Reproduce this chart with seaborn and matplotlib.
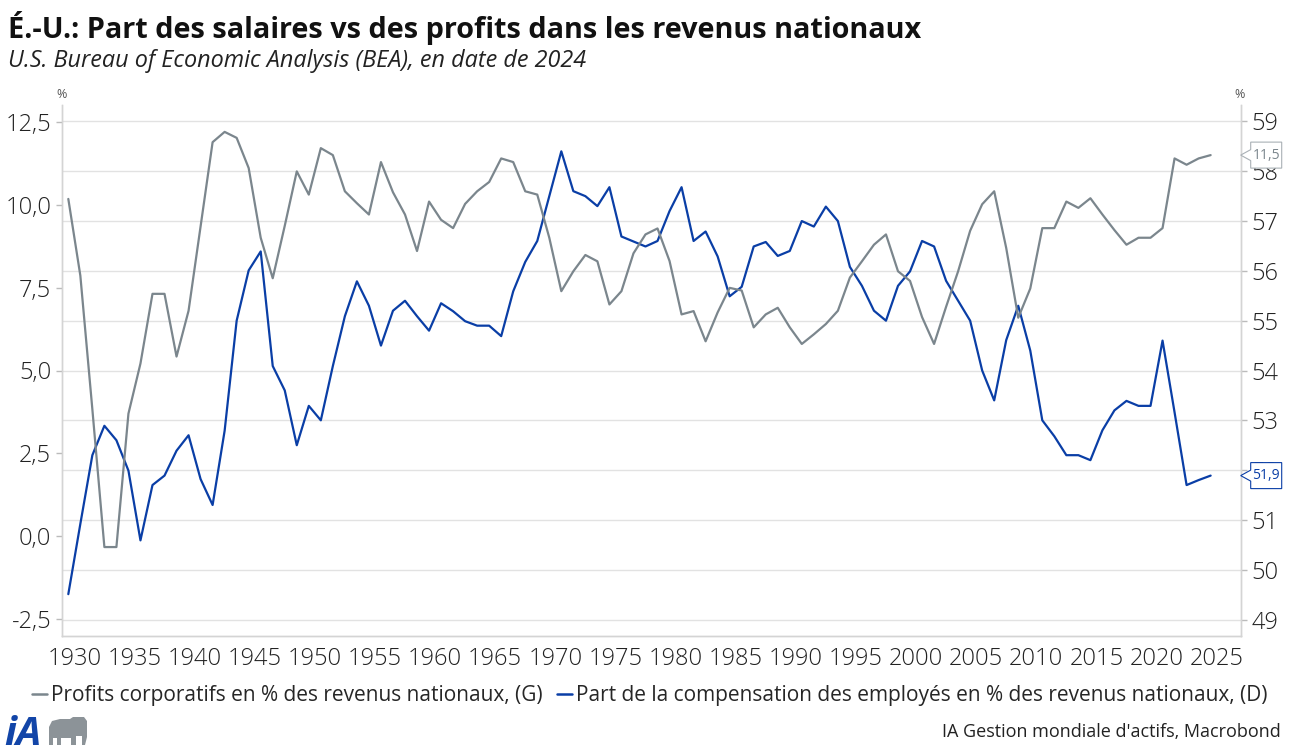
import matplotlib
matplotlib.use("Agg")
import matplotlib.pyplot as plt
import matplotlib.transforms as mtransforms
from matplotlib.patches import Polygon
from matplotlib.lines import Line2D
import numpy as np
import pandas as pd
import seaborn as sns

# ---- data ----
years = list(range(1929, 2025))

profits = [10.17, 7.86, 3.83, -0.32, -0.32, 3.70, 5.21, 7.31, 7.31, 5.42, 6.80,
           9.34, 11.88, 12.19, 12.01, 11.10, 9.00, 7.78, 9.36, 11.00, 10.30,
           11.70, 11.49, 10.40, 10.04, 9.70, 11.28, 10.37, 9.70, 8.60, 10.09,
           9.54, 9.29, 10.02, 10.40, 10.68, 11.39, 11.28, 10.40, 10.30, 9.00,
           7.39, 7.99, 8.48, 8.29, 6.99, 7.39, 8.53, 9.10, 9.28, 8.30,
           6.69, 6.79, 5.88, 6.75, 7.49, 7.41, 6.30, 6.69, 6.89, 6.30,
           5.80, 6.09, 6.40, 6.80, 7.80, 8.29, 8.79, 9.10, 7.99, 7.70,
           6.61, 5.80, 6.92, 7.99, 9.21, 10.01, 10.40, 8.69, 6.59, 7.47,
           9.29, 9.29, 10.09, 9.90, 10.19, 9.70, 9.23, 8.79, 9.00, 9.00,
           9.29, 11.39, 11.20, 11.39, 11.49]

wages = [49.51, 50.92, 52.30, 52.89, 52.60, 51.99, 50.59, 51.70, 51.89, 52.39, 52.70,
         51.82, 51.30, 52.79, 55.00, 56.01, 56.39, 54.09, 53.60, 52.50, 53.29,
         53.00, 54.09, 55.09, 55.79, 55.30, 54.50, 55.20, 55.40, 55.09, 54.80,
         55.35, 55.19, 54.99, 54.90, 54.90, 54.69, 55.59, 56.18, 56.60, 57.50,
         58.40, 57.60, 57.50, 57.30, 57.68, 56.69, 56.59, 56.49, 56.60, 57.20,
         57.68, 56.60, 56.79, 56.29, 55.49, 55.68, 56.49, 56.58, 56.30, 56.40,
         57.00, 56.89, 57.29, 57.00, 56.08, 55.70, 55.20, 55.00, 55.70, 55.99,
         56.60, 56.49, 55.80, 55.40, 55.00, 54.00, 53.40, 54.61, 55.30, 54.40,
         53.00, 52.68, 52.30, 52.30, 52.20, 52.80, 53.20, 53.39, 53.29, 53.29,
         54.60, 53.16, 51.70, 51.80, 51.89]

left_ticks = [-2.5, 0.0, 2.5, 5.0, 7.5, 10.0, 12.5]
right_ticks = list(range(49, 60))
year_ticks = list(range(1930, 2030, 5))

label_profits = "Profits corporatifs en % des revenus nationaux, (G)"
label_wages = "Part de la compensation des employés en % des revenus nationaux, (D)"
title = "É.-U.: Part des salaires vs des profits dans les revenus nationaux"
subtitle = "U.S. Bureau of Economic Analysis (BEA), en date de 2024"
source = "IA Gestion mondiale d'actifs, Macrobond"

GRAY = "#7b868d"
BLUE = "#0a3ea6"

df = pd.DataFrame({"year": years, "profits": profits, "wages": wages})
df["x"] = df["year"] + 0.5  # annual values drawn mid-year

sns.set_theme(style="white")
plt.rcParams["font.family"] = ["Open Sans", "DejaVu Sans"]

W, H = 1292, 755
fig = plt.figure(figsize=(W / 100, H / 100), dpi=100)
ax = fig.add_axes([62.3 / W, 1 - 636 / H, (1240.7 - 62.3) / W, (636 - 105) / H])
ax2 = ax.twinx()

sns.lineplot(data=df, x="x", y="profits", ax=ax, color=GRAY, linewidth=1.6, legend=False)
sns.lineplot(data=df, x="x", y="wages", ax=ax2, color=BLUE, linewidth=1.6, legend=False)

ax.set_xlim(1929.0, 2027.0)
ax.set_ylim(-3.0, 13.0)
ax2.set_ylim(48.67, 59.33)

ax.set_xticks(year_ticks)
ax.set_xticklabels([str(y) for y in year_ticks])
ax.set_yticks(left_ticks)
ax.set_yticklabels([f"{v:.1f}".replace(".", ",") for v in left_ticks])
ax2.set_yticks(right_ticks)
ax2.set_yticklabels([str(v) for v in right_ticks])

# grid comes from the right axis; keep it underneath both lines
ax.grid(False)
ax2.grid(True, axis="y", color="#e2e2e2", linewidth=1.0)
ax2.set_zorder(ax.get_zorder() - 1)
ax.patch.set_visible(False)
ax2.patch.set_facecolor("white")
for a in (ax, ax2):
    a.set_xlabel("")
    a.set_ylabel("")
    for s in a.spines.values():
        s.set_color("#d4d4d4")
        s.set_linewidth(1.0)
    a.spines["top"].set_visible(False)

ax.tick_params(axis="x", direction="out", length=5, width=1, color="#444444",
               labelsize=17, labelcolor="#222222", pad=3)
ax.tick_params(axis="y", direction="out", length=4, width=1, color="#bbbbbb",
               labelsize=17, labelcolor="#222222", pad=4)
ax2.tick_params(axis="y", direction="out", length=4, width=1, color="#bbbbbb",
                labelsize=17, labelcolor="#222222", pad=4)
for lab in ax.get_xticklabels() + ax.get_yticklabels() + ax2.get_yticklabels():
    lab.set_fontweight("light")

# titles
fig.text(8 / W, 1 - 28 / H, title, fontsize=20.8, fontweight="bold", color="#111111",
         ha="left", va="center")
fig.text(8 / W, 1 - 61 / H, subtitle, fontsize=16.8, style="italic", color="#222222",
         ha="left", va="center")
fig.text(62 / W, 1 - 95 / H, "%", fontsize=9, color="#555555", ha="center", va="center")
fig.text(1240 / W, 1 - 95 / H, "%", fontsize=9, color="#555555", ha="center", va="center")

# legend
handles = [Line2D([], [], color=GRAY, linewidth=1.8),
           Line2D([], [], color=BLUE, linewidth=1.8)]
fig.legend(handles, [label_profits, label_wages], loc="center left",
           bbox_to_anchor=(32 / W, 1 - 696 / H), ncol=2, frameon=False,
           fontsize=15, handlelength=0.7, handletextpad=0.2, columnspacing=0.7,
           borderaxespad=0, borderpad=0)

fig.text(1281 / W, 1 - 732 / H, source, fontsize=13, color="#222222",
         ha="right", va="center")

# end-value tags on the right spine
ident = mtransforms.IdentityTransform()
fig.canvas.draw()


def tag(axis, value, text, color, edge):
    tip_x, y = axis.transData.transform((2027.0, value))
    bl, br, hh, nh = tip_x + 10, tip_x + 41, 13, 5.5
    pts = [(tip_x, y), (bl, y + nh), (bl, y + hh), (br, y + hh),
           (br, y - hh), (bl, y - hh), (bl, y - nh)]
    fig.add_artist(Polygon(pts, closed=True, transform=ident, facecolor="white",
                           edgecolor=edge, linewidth=0.8, clip_on=False, zorder=5))
    fig.text((bl + br) / 2, y, text, transform=ident, fontsize=10, color=color,
             ha="center", va="center", zorder=6)


tag(ax, profits[-1], f"{profits[-1]:.1f}".replace(".", ","), "#7b868d", "#a9b0b5")
tag(ax2, wages[-1], f"{wages[-1]:.1f}".replace(".", ","), BLUE, BLUE)

# logo: "iA" + simple elephant silhouette
fig.text(4 / W, 1 - 745 / H, "iA", fontsize=29, fontweight="bold", style="italic",
         color="#1245a8", ha="left", va="baseline")
eleph = [(49, 745), (49, 727), (52, 721), (60, 719), (70, 719), (73, 717),
         (84, 717), (87, 721), (87, 737), (85, 745), (82, 745), (82, 736),
         (76, 736), (76, 745), (71, 745), (71, 738), (61, 738), (61, 745),
         (57, 745), (57, 738), (53, 738), (53, 745)]
fig.add_artist(Polygon([(x, H - y) for x, y in eleph], closed=True, transform=ident,
                       facecolor="#8c9398", edgecolor="none"))

fig.savefig("out.png", dpi=100)
